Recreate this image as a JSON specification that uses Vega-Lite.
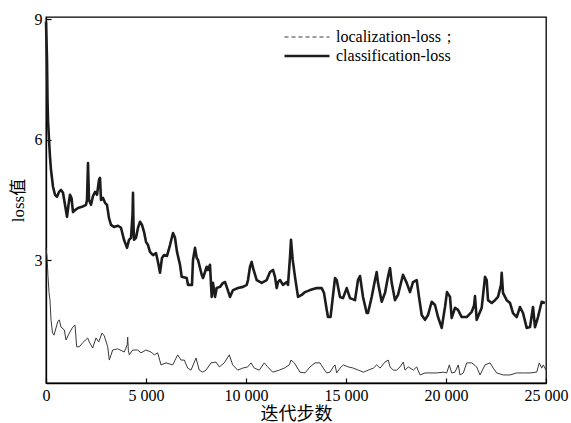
{
  "$schema": "https://vega.github.io/schema/vega-lite/v6.json",
  "width": 500,
  "height": 366,
  "autosize": "none",
  "padding": {"left": 46, "top": 17, "right": 25, "bottom": 40},
  "background": "white",
  "config": {
    "view": {"stroke": "black", "strokeWidth": 1.3},
    "font": "Liberation Serif, Times New Roman, serif",
    "axis": {
      "domainColor": "black",
      "domainWidth": 1.3,
      "tickColor": "black",
      "tickWidth": 1.2,
      "tickSize": -5,
      "labelColor": "black",
      "labelFont": "Liberation Serif, Times New Roman, serif",
      "labelFontSize": 16,
      "titleColor": "black",
      "titleFont": "Liberation Serif, Times New Roman, Noto Sans CJK SC, serif",
      "titleFontWeight": "normal",
      "titleFontSize": 17,
      "grid": false
    }
  },
  "data": {
    "values": [
      {"step": 0, "loss": 8.93, "series": "classification-loss"},
      {"step": 50, "loss": 7.99, "series": "classification-loss"},
      {"step": 75, "loss": 6.99, "series": "classification-loss"},
      {"step": 100, "loss": 6.49, "series": "classification-loss"},
      {"step": 150, "loss": 6.0, "series": "classification-loss"},
      {"step": 200, "loss": 5.57, "series": "classification-loss"},
      {"step": 250, "loss": 5.25, "series": "classification-loss"},
      {"step": 350, "loss": 4.83, "series": "classification-loss"},
      {"step": 450, "loss": 4.63, "series": "classification-loss"},
      {"step": 550, "loss": 4.58, "series": "classification-loss"},
      {"step": 650, "loss": 4.7, "series": "classification-loss"},
      {"step": 750, "loss": 4.75, "series": "classification-loss"},
      {"step": 850, "loss": 4.68, "series": "classification-loss"},
      {"step": 950, "loss": 4.38, "series": "classification-loss"},
      {"step": 1050, "loss": 4.08, "series": "classification-loss"},
      {"step": 1125, "loss": 4.38, "series": "classification-loss"},
      {"step": 1200, "loss": 4.63, "series": "classification-loss"},
      {"step": 1275, "loss": 4.55, "series": "classification-loss"},
      {"step": 1350, "loss": 4.2, "series": "classification-loss"},
      {"step": 1450, "loss": 4.25, "series": "classification-loss"},
      {"step": 1600, "loss": 4.3, "series": "classification-loss"},
      {"step": 1800, "loss": 4.33, "series": "classification-loss"},
      {"step": 2000, "loss": 4.38, "series": "classification-loss"},
      {"step": 2050, "loss": 4.5, "series": "classification-loss"},
      {"step": 2100, "loss": 5.42, "series": "classification-loss"},
      {"step": 2150, "loss": 4.5, "series": "classification-loss"},
      {"step": 2250, "loss": 4.38, "series": "classification-loss"},
      {"step": 2350, "loss": 4.6, "series": "classification-loss"},
      {"step": 2450, "loss": 4.7, "series": "classification-loss"},
      {"step": 2550, "loss": 4.63, "series": "classification-loss"},
      {"step": 2650, "loss": 5.0, "series": "classification-loss"},
      {"step": 2700, "loss": 5.05, "series": "classification-loss"},
      {"step": 2750, "loss": 4.5, "series": "classification-loss"},
      {"step": 2850, "loss": 4.55, "series": "classification-loss"},
      {"step": 2950, "loss": 4.43, "series": "classification-loss"},
      {"step": 3050, "loss": 4.38, "series": "classification-loss"},
      {"step": 3150, "loss": 4.05, "series": "classification-loss"},
      {"step": 3250, "loss": 3.88, "series": "classification-loss"},
      {"step": 3400, "loss": 3.83, "series": "classification-loss"},
      {"step": 3600, "loss": 3.86, "series": "classification-loss"},
      {"step": 3750, "loss": 3.81, "series": "classification-loss"},
      {"step": 3900, "loss": 3.51, "series": "classification-loss"},
      {"step": 4050, "loss": 3.31, "series": "classification-loss"},
      {"step": 4150, "loss": 3.51, "series": "classification-loss"},
      {"step": 4250, "loss": 3.56, "series": "classification-loss"},
      {"step": 4325, "loss": 4.13, "series": "classification-loss"},
      {"step": 4350, "loss": 4.68, "series": "classification-loss"},
      {"step": 4375, "loss": 3.88, "series": "classification-loss"},
      {"step": 4400, "loss": 3.51, "series": "classification-loss"},
      {"step": 4500, "loss": 3.56, "series": "classification-loss"},
      {"step": 4600, "loss": 3.81, "series": "classification-loss"},
      {"step": 4700, "loss": 3.96, "series": "classification-loss"},
      {"step": 4800, "loss": 3.88, "series": "classification-loss"},
      {"step": 4900, "loss": 3.71, "series": "classification-loss"},
      {"step": 5000, "loss": 3.46, "series": "classification-loss"},
      {"step": 5100, "loss": 3.38, "series": "classification-loss"},
      {"step": 5200, "loss": 3.21, "series": "classification-loss"},
      {"step": 5350, "loss": 3.13, "series": "classification-loss"},
      {"step": 5500, "loss": 3.18, "series": "classification-loss"},
      {"step": 5600, "loss": 2.96, "series": "classification-loss"},
      {"step": 5700, "loss": 2.69, "series": "classification-loss"},
      {"step": 5800, "loss": 3.06, "series": "classification-loss"},
      {"step": 5900, "loss": 3.13, "series": "classification-loss"},
      {"step": 6050, "loss": 3.11, "series": "classification-loss"},
      {"step": 6200, "loss": 3.38, "series": "classification-loss"},
      {"step": 6350, "loss": 3.68, "series": "classification-loss"},
      {"step": 6450, "loss": 3.56, "series": "classification-loss"},
      {"step": 6550, "loss": 3.21, "series": "classification-loss"},
      {"step": 6700, "loss": 2.89, "series": "classification-loss"},
      {"step": 6785, "loss": 2.59, "series": "classification-loss"},
      {"step": 7035, "loss": 2.56, "series": "classification-loss"},
      {"step": 7100, "loss": 2.39, "series": "classification-loss"},
      {"step": 7300, "loss": 2.39, "series": "classification-loss"},
      {"step": 7350, "loss": 3.01, "series": "classification-loss"},
      {"step": 7450, "loss": 3.31, "series": "classification-loss"},
      {"step": 7535, "loss": 3.06, "series": "classification-loss"},
      {"step": 7600, "loss": 3.01, "series": "classification-loss"},
      {"step": 7785, "loss": 2.64, "series": "classification-loss"},
      {"step": 7850, "loss": 2.56, "series": "classification-loss"},
      {"step": 7950, "loss": 2.71, "series": "classification-loss"},
      {"step": 8035, "loss": 2.84, "series": "classification-loss"},
      {"step": 8100, "loss": 2.76, "series": "classification-loss"},
      {"step": 8200, "loss": 2.89, "series": "classification-loss"},
      {"step": 8285, "loss": 2.09, "series": "classification-loss"},
      {"step": 8350, "loss": 2.44, "series": "classification-loss"},
      {"step": 8450, "loss": 2.09, "series": "classification-loss"},
      {"step": 8535, "loss": 2.31, "series": "classification-loss"},
      {"step": 8700, "loss": 2.34, "series": "classification-loss"},
      {"step": 8850, "loss": 2.44, "series": "classification-loss"},
      {"step": 8950, "loss": 2.46, "series": "classification-loss"},
      {"step": 9035, "loss": 2.34, "series": "classification-loss"},
      {"step": 9200, "loss": 2.09, "series": "classification-loss"},
      {"step": 9350, "loss": 2.26, "series": "classification-loss"},
      {"step": 9600, "loss": 2.31, "series": "classification-loss"},
      {"step": 9850, "loss": 2.34, "series": "classification-loss"},
      {"step": 10035, "loss": 2.39, "series": "classification-loss"},
      {"step": 10100, "loss": 2.51, "series": "classification-loss"},
      {"step": 10200, "loss": 2.84, "series": "classification-loss"},
      {"step": 10285, "loss": 2.96, "series": "classification-loss"},
      {"step": 10350, "loss": 2.81, "series": "classification-loss"},
      {"step": 10535, "loss": 2.51, "series": "classification-loss"},
      {"step": 10785, "loss": 2.44, "series": "classification-loss"},
      {"step": 11035, "loss": 2.51, "series": "classification-loss"},
      {"step": 11200, "loss": 2.71, "series": "classification-loss"},
      {"step": 11350, "loss": 2.76, "series": "classification-loss"},
      {"step": 11450, "loss": 2.59, "series": "classification-loss"},
      {"step": 11535, "loss": 2.31, "series": "classification-loss"},
      {"step": 11600, "loss": 2.46, "series": "classification-loss"},
      {"step": 11700, "loss": 2.51, "series": "classification-loss"},
      {"step": 11850, "loss": 2.39, "series": "classification-loss"},
      {"step": 12035, "loss": 2.46, "series": "classification-loss"},
      {"step": 12100, "loss": 2.39, "series": "classification-loss"},
      {"step": 12200, "loss": 3.08, "series": "classification-loss"},
      {"step": 12250, "loss": 3.51, "series": "classification-loss"},
      {"step": 12335, "loss": 3.01, "series": "classification-loss"},
      {"step": 12450, "loss": 2.59, "series": "classification-loss"},
      {"step": 12600, "loss": 2.09, "series": "classification-loss"},
      {"step": 12785, "loss": 2.14, "series": "classification-loss"},
      {"step": 12950, "loss": 2.21, "series": "classification-loss"},
      {"step": 13200, "loss": 2.26, "series": "classification-loss"},
      {"step": 13535, "loss": 2.31, "series": "classification-loss"},
      {"step": 13785, "loss": 2.31, "series": "classification-loss"},
      {"step": 13900, "loss": 2.19, "series": "classification-loss"},
      {"step": 14035, "loss": 1.77, "series": "classification-loss"},
      {"step": 14100, "loss": 1.59, "series": "classification-loss"},
      {"step": 14225, "loss": 1.59, "series": "classification-loss"},
      {"step": 14285, "loss": 1.84, "series": "classification-loss"},
      {"step": 14450, "loss": 2.56, "series": "classification-loss"},
      {"step": 14535, "loss": 2.51, "series": "classification-loss"},
      {"step": 14700, "loss": 2.09, "series": "classification-loss"},
      {"step": 14850, "loss": 2.06, "series": "classification-loss"},
      {"step": 15035, "loss": 2.31, "series": "classification-loss"},
      {"step": 15200, "loss": 2.06, "series": "classification-loss"},
      {"step": 15450, "loss": 2.01, "series": "classification-loss"},
      {"step": 15600, "loss": 2.51, "series": "classification-loss"},
      {"step": 15700, "loss": 2.61, "series": "classification-loss"},
      {"step": 15850, "loss": 2.09, "series": "classification-loss"},
      {"step": 16035, "loss": 1.69, "series": "classification-loss"},
      {"step": 16100, "loss": 1.69, "series": "classification-loss"},
      {"step": 16285, "loss": 2.09, "series": "classification-loss"},
      {"step": 16450, "loss": 2.51, "series": "classification-loss"},
      {"step": 16535, "loss": 2.71, "series": "classification-loss"},
      {"step": 16600, "loss": 2.44, "series": "classification-loss"},
      {"step": 16785, "loss": 1.97, "series": "classification-loss"},
      {"step": 16950, "loss": 2.19, "series": "classification-loss"},
      {"step": 17100, "loss": 2.59, "series": "classification-loss"},
      {"step": 17200, "loss": 2.81, "series": "classification-loss"},
      {"step": 17285, "loss": 2.44, "series": "classification-loss"},
      {"step": 17450, "loss": 2.01, "series": "classification-loss"},
      {"step": 17600, "loss": 2.14, "series": "classification-loss"},
      {"step": 17785, "loss": 2.51, "series": "classification-loss"},
      {"step": 17850, "loss": 2.64, "series": "classification-loss"},
      {"step": 18035, "loss": 2.44, "series": "classification-loss"},
      {"step": 18200, "loss": 2.21, "series": "classification-loss"},
      {"step": 18350, "loss": 2.46, "series": "classification-loss"},
      {"step": 18535, "loss": 2.51, "series": "classification-loss"},
      {"step": 18650, "loss": 2.09, "series": "classification-loss"},
      {"step": 18785, "loss": 1.64, "series": "classification-loss"},
      {"step": 18950, "loss": 1.52, "series": "classification-loss"},
      {"step": 19100, "loss": 1.64, "series": "classification-loss"},
      {"step": 19285, "loss": 1.97, "series": "classification-loss"},
      {"step": 19450, "loss": 1.89, "series": "classification-loss"},
      {"step": 19600, "loss": 1.59, "series": "classification-loss"},
      {"step": 19785, "loss": 1.32, "series": "classification-loss"},
      {"step": 19950, "loss": 1.84, "series": "classification-loss"},
      {"step": 20050, "loss": 2.21, "series": "classification-loss"},
      {"step": 20200, "loss": 2.09, "series": "classification-loss"},
      {"step": 20285, "loss": 1.57, "series": "classification-loss"},
      {"step": 20450, "loss": 1.82, "series": "classification-loss"},
      {"step": 20600, "loss": 1.77, "series": "classification-loss"},
      {"step": 20785, "loss": 1.59, "series": "classification-loss"},
      {"step": 21035, "loss": 1.59, "series": "classification-loss"},
      {"step": 21285, "loss": 1.72, "series": "classification-loss"},
      {"step": 21400, "loss": 1.87, "series": "classification-loss"},
      {"step": 21450, "loss": 2.11, "series": "classification-loss"},
      {"step": 21535, "loss": 1.52, "series": "classification-loss"},
      {"step": 21785, "loss": 1.82, "series": "classification-loss"},
      {"step": 21950, "loss": 2.59, "series": "classification-loss"},
      {"step": 22035, "loss": 2.51, "series": "classification-loss"},
      {"step": 22100, "loss": 2.01, "series": "classification-loss"},
      {"step": 22285, "loss": 1.94, "series": "classification-loss"},
      {"step": 22450, "loss": 2.01, "series": "classification-loss"},
      {"step": 22600, "loss": 2.09, "series": "classification-loss"},
      {"step": 22750, "loss": 2.39, "series": "classification-loss"},
      {"step": 22785, "loss": 2.69, "series": "classification-loss"},
      {"step": 22850, "loss": 2.19, "series": "classification-loss"},
      {"step": 23035, "loss": 2.01, "series": "classification-loss"},
      {"step": 23200, "loss": 1.94, "series": "classification-loss"},
      {"step": 23350, "loss": 1.69, "series": "classification-loss"},
      {"step": 23535, "loss": 1.59, "series": "classification-loss"},
      {"step": 23700, "loss": 1.84, "series": "classification-loss"},
      {"step": 23850, "loss": 1.69, "series": "classification-loss"},
      {"step": 24035, "loss": 1.32, "series": "classification-loss"},
      {"step": 24200, "loss": 1.34, "series": "classification-loss"},
      {"step": 24350, "loss": 1.84, "series": "classification-loss"},
      {"step": 24450, "loss": 1.34, "series": "classification-loss"},
      {"step": 24600, "loss": 1.59, "series": "classification-loss"},
      {"step": 24785, "loss": 1.97, "series": "classification-loss"},
      {"step": 24950, "loss": 1.94, "series": "classification-loss"},
      {"step": 0, "loss": 3.3, "series": "localization-loss；"},
      {"step": 50, "loss": 3.1, "series": "localization-loss；"},
      {"step": 100, "loss": 2.6, "series": "localization-loss；"},
      {"step": 150, "loss": 2.2, "series": "localization-loss；"},
      {"step": 200, "loss": 2.0, "series": "localization-loss；"},
      {"step": 250, "loss": 1.52, "series": "localization-loss；"},
      {"step": 325, "loss": 1.2, "series": "localization-loss；"},
      {"step": 400, "loss": 1.14, "series": "localization-loss；"},
      {"step": 585, "loss": 1.47, "series": "localization-loss；"},
      {"step": 665, "loss": 1.52, "series": "localization-loss；"},
      {"step": 750, "loss": 1.34, "series": "localization-loss；"},
      {"step": 915, "loss": 1.27, "series": "localization-loss；"},
      {"step": 1000, "loss": 1.02, "series": "localization-loss；"},
      {"step": 1165, "loss": 1.19, "series": "localization-loss；"},
      {"step": 1335, "loss": 1.34, "series": "localization-loss；"},
      {"step": 1450, "loss": 1.39, "series": "localization-loss；"},
      {"step": 1535, "loss": 0.85, "series": "localization-loss；"},
      {"step": 1665, "loss": 0.85, "series": "localization-loss；"},
      {"step": 1835, "loss": 0.95, "series": "localization-loss；"},
      {"step": 2085, "loss": 1.07, "series": "localization-loss；"},
      {"step": 2165, "loss": 0.97, "series": "localization-loss；"},
      {"step": 2335, "loss": 0.82, "series": "localization-loss；"},
      {"step": 2500, "loss": 1.07, "series": "localization-loss；"},
      {"step": 2635, "loss": 0.97, "series": "localization-loss；"},
      {"step": 2800, "loss": 1.19, "series": "localization-loss；"},
      {"step": 2915, "loss": 1.12, "series": "localization-loss；"},
      {"step": 3085, "loss": 0.85, "series": "localization-loss；"},
      {"step": 3165, "loss": 0.52, "series": "localization-loss；"},
      {"step": 3335, "loss": 0.77, "series": "localization-loss；"},
      {"step": 3585, "loss": 0.8, "series": "localization-loss；"},
      {"step": 3915, "loss": 0.72, "series": "localization-loss；"},
      {"step": 4060, "loss": 0.9, "series": "localization-loss；"},
      {"step": 4085, "loss": 1.09, "series": "localization-loss；"},
      {"step": 4115, "loss": 0.77, "series": "localization-loss；"},
      {"step": 4165, "loss": 0.65, "series": "localization-loss；"},
      {"step": 4335, "loss": 0.77, "series": "localization-loss；"},
      {"step": 4585, "loss": 0.77, "series": "localization-loss；"},
      {"step": 4750, "loss": 0.7, "series": "localization-loss；"},
      {"step": 5000, "loss": 0.77, "series": "localization-loss；"},
      {"step": 5250, "loss": 0.72, "series": "localization-loss；"},
      {"step": 5415, "loss": 0.65, "series": "localization-loss；"},
      {"step": 5585, "loss": 0.7, "series": "localization-loss；"},
      {"step": 5750, "loss": 0.4, "series": "localization-loss；"},
      {"step": 6000, "loss": 0.45, "series": "localization-loss；"},
      {"step": 6335, "loss": 0.4, "series": "localization-loss；"},
      {"step": 6585, "loss": 0.65, "series": "localization-loss；"},
      {"step": 6750, "loss": 0.52, "series": "localization-loss；"},
      {"step": 6915, "loss": 0.52, "series": "localization-loss；"},
      {"step": 7085, "loss": 0.32, "series": "localization-loss；"},
      {"step": 7250, "loss": 0.27, "series": "localization-loss；"},
      {"step": 7500, "loss": 0.57, "series": "localization-loss；"},
      {"step": 7665, "loss": 0.27, "series": "localization-loss；"},
      {"step": 7835, "loss": 0.22, "series": "localization-loss；"},
      {"step": 8000, "loss": 0.27, "series": "localization-loss；"},
      {"step": 8250, "loss": 0.45, "series": "localization-loss；"},
      {"step": 8500, "loss": 0.47, "series": "localization-loss；"},
      {"step": 8665, "loss": 0.35, "series": "localization-loss；"},
      {"step": 8915, "loss": 0.45, "series": "localization-loss；"},
      {"step": 9165, "loss": 0.65, "series": "localization-loss；"},
      {"step": 9335, "loss": 0.4, "series": "localization-loss；"},
      {"step": 9585, "loss": 0.27, "series": "localization-loss；"},
      {"step": 9835, "loss": 0.32, "series": "localization-loss；"},
      {"step": 10085, "loss": 0.35, "series": "localization-loss；"},
      {"step": 10250, "loss": 0.45, "series": "localization-loss；"},
      {"step": 10415, "loss": 0.32, "series": "localization-loss；"},
      {"step": 10665, "loss": 0.27, "series": "localization-loss；"},
      {"step": 10915, "loss": 0.45, "series": "localization-loss；"},
      {"step": 11085, "loss": 0.35, "series": "localization-loss；"},
      {"step": 11335, "loss": 0.22, "series": "localization-loss；"},
      {"step": 11665, "loss": 0.27, "series": "localization-loss；"},
      {"step": 11915, "loss": 0.32, "series": "localization-loss；"},
      {"step": 12165, "loss": 0.4, "series": "localization-loss；"},
      {"step": 12250, "loss": 0.52, "series": "localization-loss；"},
      {"step": 12415, "loss": 0.45, "series": "localization-loss；"},
      {"step": 12700, "loss": 0.22, "series": "localization-loss；"},
      {"step": 12950, "loss": 0.2, "series": "localization-loss；"},
      {"step": 13200, "loss": 0.35, "series": "localization-loss；"},
      {"step": 13450, "loss": 0.45, "series": "localization-loss；"},
      {"step": 13700, "loss": 0.45, "series": "localization-loss；"},
      {"step": 13865, "loss": 0.32, "series": "localization-loss；"},
      {"step": 14035, "loss": 0.2, "series": "localization-loss；"},
      {"step": 14200, "loss": 0.22, "series": "localization-loss；"},
      {"step": 14365, "loss": 0.35, "series": "localization-loss；"},
      {"step": 14450, "loss": 0.4, "series": "localization-loss；"},
      {"step": 14535, "loss": 0.2, "series": "localization-loss；"},
      {"step": 14700, "loss": 0.32, "series": "localization-loss；"},
      {"step": 14865, "loss": 0.4, "series": "localization-loss；"},
      {"step": 15115, "loss": 0.35, "series": "localization-loss；"},
      {"step": 15365, "loss": 0.32, "series": "localization-loss；"},
      {"step": 15615, "loss": 0.27, "series": "localization-loss；"},
      {"step": 15865, "loss": 0.22, "series": "localization-loss；"},
      {"step": 16115, "loss": 0.27, "series": "localization-loss；"},
      {"step": 16365, "loss": 0.32, "series": "localization-loss；"},
      {"step": 16535, "loss": 0.4, "series": "localization-loss；"},
      {"step": 16700, "loss": 0.32, "series": "localization-loss；"},
      {"step": 16950, "loss": 0.47, "series": "localization-loss；"},
      {"step": 17115, "loss": 0.52, "series": "localization-loss；"},
      {"step": 17200, "loss": 0.35, "series": "localization-loss；"},
      {"step": 17365, "loss": 0.27, "series": "localization-loss；"},
      {"step": 17535, "loss": 0.27, "series": "localization-loss；"},
      {"step": 17700, "loss": 0.35, "series": "localization-loss；"},
      {"step": 17865, "loss": 0.47, "series": "localization-loss；"},
      {"step": 17950, "loss": 0.27, "series": "localization-loss；"},
      {"step": 18115, "loss": 0.35, "series": "localization-loss；"},
      {"step": 18365, "loss": 0.27, "series": "localization-loss；"},
      {"step": 18535, "loss": 0.35, "series": "localization-loss；"},
      {"step": 18700, "loss": 0.15, "series": "localization-loss；"},
      {"step": 18950, "loss": 0.2, "series": "localization-loss；"},
      {"step": 19200, "loss": 0.2, "series": "localization-loss；"},
      {"step": 19535, "loss": 0.2, "series": "localization-loss；"},
      {"step": 19865, "loss": 0.22, "series": "localization-loss；"},
      {"step": 20035, "loss": 0.2, "series": "localization-loss；"},
      {"step": 20165, "loss": 0.4, "series": "localization-loss；"},
      {"step": 20285, "loss": 0.2, "series": "localization-loss；"},
      {"step": 20450, "loss": 0.22, "series": "localization-loss；"},
      {"step": 20615, "loss": 0.4, "series": "localization-loss；"},
      {"step": 20700, "loss": 0.15, "series": "localization-loss；"},
      {"step": 20865, "loss": 0.2, "series": "localization-loss；"},
      {"step": 21035, "loss": 0.45, "series": "localization-loss；"},
      {"step": 21285, "loss": 0.45, "series": "localization-loss；"},
      {"step": 21535, "loss": 0.35, "series": "localization-loss；"},
      {"step": 21700, "loss": 0.15, "series": "localization-loss；"},
      {"step": 21950, "loss": 0.4, "series": "localization-loss；"},
      {"step": 22200, "loss": 0.45, "series": "localization-loss；"},
      {"step": 22365, "loss": 0.32, "series": "localization-loss；"},
      {"step": 22535, "loss": 0.2, "series": "localization-loss；"},
      {"step": 22865, "loss": 0.15, "series": "localization-loss；"},
      {"step": 23200, "loss": 0.15, "series": "localization-loss；"},
      {"step": 23535, "loss": 0.2, "series": "localization-loss；"},
      {"step": 23865, "loss": 0.2, "series": "localization-loss；"},
      {"step": 24200, "loss": 0.2, "series": "localization-loss；"},
      {"step": 24535, "loss": 0.22, "series": "localization-loss；"},
      {"step": 24665, "loss": 0.45, "series": "localization-loss；"},
      {"step": 24785, "loss": 0.32, "series": "localization-loss；"},
      {"step": 24865, "loss": 0.4, "series": "localization-loss；"},
      {"step": 25000, "loss": 0.27, "series": "localization-loss；"}
    ]
  },
  "mark": {"type": "line", "strokeJoin": "round"},
  "encoding": {
    "x": {
      "field": "step",
      "type": "quantitative",
      "scale": {"domain": [0, 25000], "nice": false, "zero": false},
      "axis": {
        "values": [0, 5000, 10000, 15000, 20000, 25000],
        "labelExpr": "replace(format(datum.value, ','), ',', ' ')",
        "labelPadding": 9,
        "labelFlush": false,
        "title": "迭代步数",
        "titleFontSize": 18,
        "titlePadding": 2
      }
    },
    "y": {
      "field": "loss",
      "type": "quantitative",
      "scale": {"domain": [-0.05, 9.05], "nice": false, "zero": false},
      "axis": {
        "values": [3, 6, 9],
        "labelPadding": 9,
        "title": "loss值",
        "titlePadding": 7
      }
    },
    "color": {
      "field": "series",
      "type": "nominal",
      "scale": {
        "domain": ["localization-loss；", "classification-loss"],
        "range": ["#3a3a3a", "#1c1c1c"]
      },
      "legend": {
        "title": null,
        "orient": "none",
        "legendX": 252,
        "legendY": 12,
        "symbolType": "M-3,0H3",
        "symbolSize": 225,
        "symbolStrokeWidth": 1.5,
        "labelFont": "Liberation Serif, Times New Roman, serif",
        "labelFontSize": 16,
        "labelColor": "black",
        "labelOffset": 20,
        "rowPadding": 2,
        "encode": {
          "symbols": {
            "update": {
              "strokeDash": {"signal": "datum.index === 0 ? [4, 3] : [1, 0]"},
              "strokeWidth": {"signal": "datum.index === 0 ? 1 : 2.2"},
              "stroke": {"value": "#111"}
            }
          }
        }
      }
    },
    "strokeWidth": {
      "field": "series",
      "type": "nominal",
      "scale": {
        "type": "point",
        "domain": ["localization-loss；", "classification-loss"],
        "range": [1, 2.6]
      },
      "legend": null
    }
  }
}
